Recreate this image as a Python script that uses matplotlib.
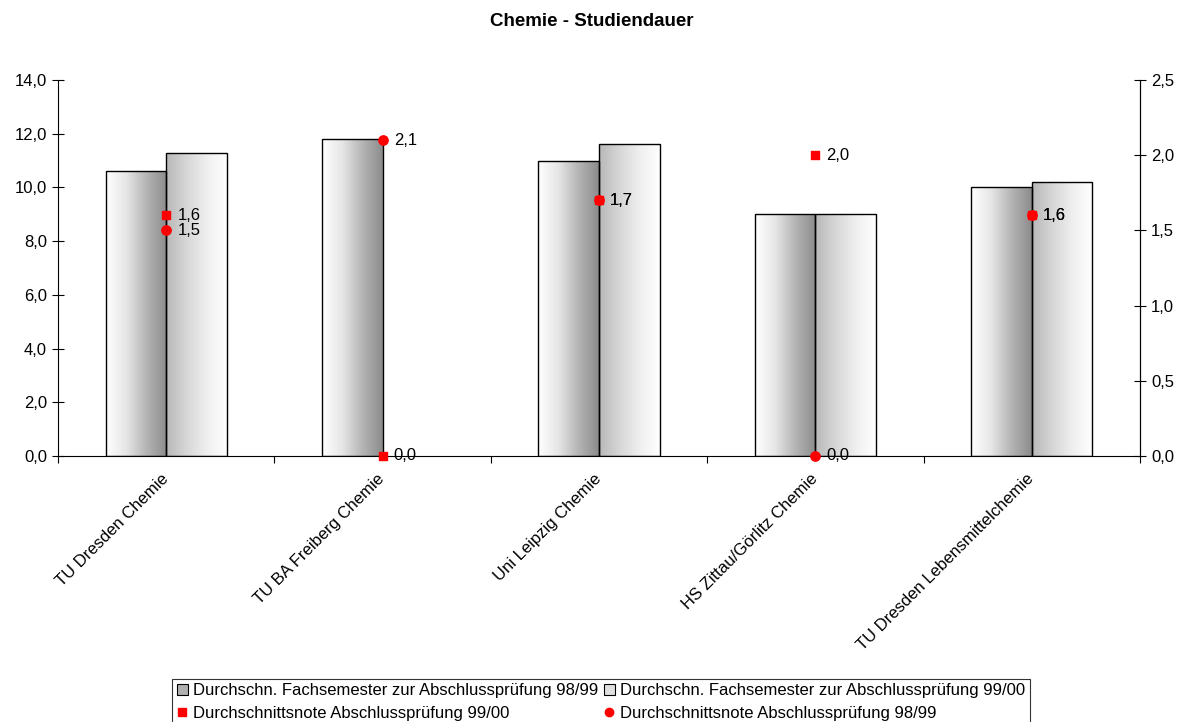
import numpy as np
import matplotlib.pyplot as plt
from matplotlib.colors import LinearSegmentedColormap
from matplotlib.patches import Rectangle
from matplotlib.lines import Line2D
from matplotlib.ticker import FuncFormatter

plt.rcParams['font.family'] = ['Liberation Sans', 'DejaVu Sans']

categories = ["TU Dresden Chemie", "TU BA Freiberg Chemie", "Uni Leipzig Chemie",
              "HS Zittau/Görlitz Chemie", "TU Dresden Lebensmittelchemie"]
semester_9899 = [10.6, 11.8, 11.0, 9.0, 10.0]
semester_9900 = [11.3, 0.0, 11.6, 9.0, 10.2]
note_9900 = [1.6, 0.0, 1.7, 2.0, 1.6]   # squares
note_9899 = [1.5, 2.1, 1.7, 0.0, 1.6]   # circles

lbl_b1 = "Durchschn. Fachsemester zur Abschlussprüfung 98/99"
lbl_b2 = "Durchschn. Fachsemester zur Abschlussprüfung 99/00"
lbl_sq = "Durchschnittsnote Abschlussprüfung 99/00"
lbl_ci = "Durchschnittsnote Abschlussprüfung 98/99"

comma = FuncFormatter(lambda v, p: f"{v:.1f}".replace(".", ","))
FS = 12

fig = plt.figure(figsize=(11.83, 7.22), dpi=100)
ax = fig.add_axes([58 / 1183, 1 - 456 / 722, 1082 / 1183, 376 / 722])
ax2 = ax.twinx()

cmap1 = LinearSegmentedColormap.from_list("b1", ["#ffffff", "#e6e6e6", "#b4b4b4", "#8c8c8c"])
cmap2 = LinearSegmentedColormap.from_list("b2", ["#b8b8b8", "#d6d6d6", "#efefef", "#ffffff"])
grad = np.linspace(0, 1, 256).reshape(1, -1)

x = np.arange(len(categories))
w = 0.28


def gradient_bar(x0, h, cmap):
    if h <= 0:
        return
    rect = Rectangle((x0, 0), w, h, facecolor="none", edgecolor="black", lw=1.0, zorder=3)
    ax.add_patch(rect)
    im = ax.imshow(grad, extent=[x0, x0 + w, 0, h], aspect="auto", cmap=cmap,
                   interpolation="bicubic", zorder=2)
    im.set_clip_path(rect)


for i in x:
    gradient_bar(i - w, semester_9899[i], cmap1)
    gradient_bar(i, semester_9900[i], cmap2)

ax.set_xlim(-0.5, len(categories) - 0.5)
ax.set_ylim(0, 14)
ax.set_yticks(np.arange(0, 14.1, 2))
ax.yaxis.set_major_formatter(comma)
ax.set_xticks(np.arange(-0.5, len(categories), 1.0))
ax.set_xticklabels([])
ax.tick_params(axis="x", direction="out", length=5, width=0.8)
ax.tick_params(axis="y", direction="inout", length=8, width=0.8, labelsize=FS, pad=4)
for i, c in enumerate(categories):
    ax.annotate(c, (i, 0), xytext=(-4, -11), textcoords="offset points",
                xycoords=("data", "axes fraction"), rotation=45,
                ha="right", va="top", rotation_mode="anchor", fontsize=FS)
ax.spines["top"].set_visible(False)

ax2.set_ylim(0, 2.5)
ax2.set_yticks(np.arange(0, 2.51, 0.5))
ax2.yaxis.set_major_formatter(comma)
ax2.tick_params(axis="y", direction="inout", length=8, width=0.8, labelsize=FS, pad=4)
ax2.spines["top"].set_visible(False)
ax2.spines["left"].set_visible(False)
ax2.spines["bottom"].set_visible(False)

ax2.scatter(x, note_9900, marker="s", s=40, color="red", zorder=5, clip_on=False)
ax2.scatter(x, note_9899, marker="o", s=45, color="red", zorder=5, clip_on=False)
for xs, vs in ((x, note_9900), (x, note_9899)):
    for xi, v in zip(xs, vs):
        ax2.annotate(f"{v:.1f}".replace(".", ","), (xi, v), xytext=(8, 0),
                     textcoords="offset points", va="center", ha="left", fontsize=FS)

fig.suptitle("Chemie - Studiendauer", y=0.982, fontsize=13.5, fontweight="bold")

handles = [
    Rectangle((0, 0), 1, 1, facecolor="#b0b0b0", edgecolor="black", lw=0.8),
    Line2D([], [], marker="s", color="red", ls="none", markersize=6),
    Rectangle((0, 0), 1, 1, facecolor="#e0e0e0", edgecolor="black", lw=0.8),
    Line2D([], [], marker="o", color="red", ls="none", markersize=6),
]
leg = fig.legend(handles, [lbl_b1, lbl_sq, lbl_b2, lbl_ci], ncol=2,
                 loc="lower center", bbox_to_anchor=(601 / 1183, -0.004),
                 fontsize=FS, frameon=True, fancybox=False, edgecolor="black",
                 handlelength=0.7, handleheight=0.7, handletextpad=0.3,
                 columnspacing=0.3, labelspacing=0.45, borderpad=0.25,
                 borderaxespad=0.0)
leg.get_frame().set_linewidth(0.8)

fig.savefig("out.png", dpi=100, facecolor="white")
